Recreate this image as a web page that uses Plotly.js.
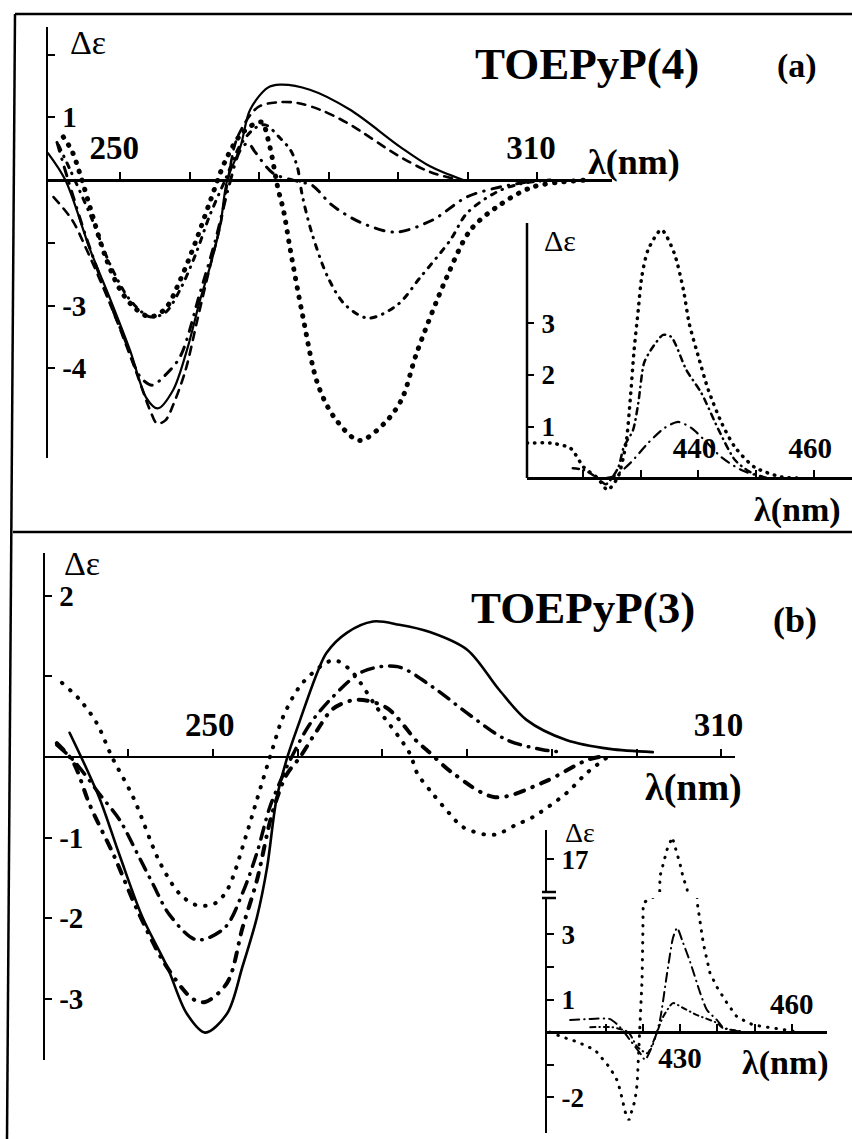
<!DOCTYPE html>
<html><head><meta charset="utf-8">
<script src="https://cdn.plot.ly/plotly-3.0.1.min.js"></script>
<style>
html,body{margin:0;padding:0;background:#fff;}
#chart{width:852px;height:1139px;}
.js-line{stroke-linecap:round;}
</style></head><body><div id="chart"></div>
<script>
// ---------- Panel (a) TOEPyP(4), main UV region (wavelength nm, Δε in tick units) ----------
const aSolidX = [239.6,242.1,245.7,248.6,251.4,253.8,255.4,257.6,259.6,261.5,262.9,264.4,265.4,267.3,268.7,271.2,273.0,277.3,283.1,290.3,294.6,299.4];
const aSolidY = [0.43,0,-1.12,-1.91,-2.71,-3.48,-3.64,-3.35,-2.71,-1.91,-1.39,-0.72,0,0.53,1.12,1.47,1.52,1.44,1.12,0.53,0.22,0];
const aDashX = [240.4,243.1,245.0,248.6,252.2,254.3,255.3,256.5,257.6,259.4,261.1,262.9,264.4,265.5,266.9,269.8,272.7,275.5,278.8,282.7,290.3,294.6,298.9];
const aDashY = [-0.27,-0.64,-1.07,-1.99,-3.03,-3.67,-3.88,-3.83,-3.59,-3.03,-2.23,-1.39,-0.72,0,0.69,1.16,1.24,1.23,1.12,0.91,0.37,0.13,0];
const aLongDashDotX = [240.9,242.5,245.0,247.8,250.7,252.9,254.6,256.2,258.6,261.5,263.7,265.5,267.3,268.4,269.4,272.0,275.9,277.6,280.5,284.5,289.6,294.9,299.9,304.7,310.4];
const aLongDashDotY = [0.6,0,-0.88,-1.75,-2.55,-3.14,-3.27,-3.14,-2.82,-1.79,-0.96,-0.16,0.48,0.59,0.45,0.11,-0.03,-0.08,-0.4,-0.67,-0.83,-0.64,-0.27,-0.11,0];
const aDashDotX = [241.1,242.8,245.7,248.6,251.4,254.3,256.5,258.6,260.8,262.9,265.1,267.3,269.4,270.9,273.0,274.5,275.5,276.2,277.6,279.9,282.4,285.7,289.9,293.2,297.5,299.9,304.2,307.6,311.9];
const aDashDotY = [0.56,0.16,-0.56,-1.36,-1.91,-2.18,-2.11,-1.75,-1.2,-0.56,0,0.56,0.83,0.88,0.67,0.48,0.21,-0.24,-0.85,-1.55,-1.99,-2.2,-1.99,-1.55,-0.96,-0.53,-0.19,-0.06,0];
const aDotX = [241.8,243.1,244.2,245.7,247.8,250.0,252.2,254.3,256.5,258.6,260.8,262.9,265.1,267.3,269.4,270.4,271.5,272.7,273.5,274.5,276.3,278.4,280.8,284.4,288.0,290.5,292.7,297.0,300.4,304.2,309.4,317.2];
const aDotY = [0.69,0.45,0.1,-0.45,-1.2,-1.75,-2.05,-2.18,-2.05,-1.6,-1.0,-0.35,0.3,0.72,0.9,0.92,0.55,-0.13,-0.48,-1.12,-2.18,-3.24,-3.78,-4.15,-3.88,-3.5,-2.75,-1.55,-0.8,-0.43,-0.11,0];
const aTickVals = [250,260,270,280,290,300,310];
const aTickText = ["250","","","","","","310"];
const aYTickVals = [2,1,-1,-2,-3];
const aYTickText = ["","1","","-3","-4"];

// ---------- Panel (a) inset, Soret region ----------
const aInsDotX = [410.4,411.0,414.4,417.9,420.2,422.6,424.3,426.1,427.5,428.2,428.9,429.6,430.2,431.3,433.6,435.8,437.4,438.4,440.0,441.7,444.0,446.3,449.7,454.4,458.0];
const aInsDotY = [0.68,0.68,0.68,0.58,0.21,0,-0.23,0.02,0.68,1.5,2.5,3.26,3.9,4.43,4.82,4.37,3.65,3.0,2.35,1.71,1.07,0.6,0.21,0.02,0];
const aInsDashDotX = [418.3,420.2,422.6,424.0,426.1,427.1,428.7,429.6,430.6,431.8,433.9,435.3,437.9,440.5,443.5,446.3,448.9,451.8];
const aInsDashDotY = [0.19,0.16,0,-0.12,0.19,0.6,0.93,1.45,2.23,2.49,2.78,2.74,2.1,1.65,0.93,0.35,0.12,0];
const aInsLongX = [424.0,425.7,428.3,431.3,434.1,436.5,438.8,441.0,444.0,447.5,451.0];
const aInsLongY = [0,0.05,0.3,0.68,0.97,1.09,0.97,0.74,0.4,0.15,0.02];
const aInsXTickVals = [420,430,440,450,460];
const aInsXTickText = ["","","440","","460"];
const aInsYTickVals = [3,2,1];
const aInsYTickText = ["3","2","1"];

// ---------- Panel (b) TOEPyP(3), main UV region ----------
const bSolidX = [233.1,234.9,236.7,239.0,241.7,244.6,246.9,249.1,251.7,253.5,255.2,256.4,257.5,258.8,260.3,262.3,263.4,265.8,268.9,272.0,275.6,280.0,283.8,287.0,291.7,296.8,301.9];
const bSolidY = [0.3,-0.1,-0.53,-1.22,-1.99,-2.6,-3.18,-3.42,-3.18,-2.6,-1.99,-1.37,-0.53,0,0.46,1.04,1.29,1.54,1.68,1.64,1.55,1.33,0.83,0.46,0.21,0.1,0.06];
const bDotX = [232.2,234.3,236.3,238.1,240.6,243.8,246.1,248.1,250.2,251.7,254.0,255.2,257.1,258.3,260.6,264.2,266.2,269.3,273.2,274.1,275.9,277.9,279.5,282.7,284.2,285.8,287.7,291.7,294.1,296.6];
const bDotY = [0.92,0.71,0.42,0,-0.5,-1.32,-1.7,-1.84,-1.82,-1.65,-0.95,-0.53,0.12,0.5,0.92,1.2,1.08,0.62,0.05,-0.2,-0.45,-0.7,-0.87,-0.97,-0.93,-0.84,-0.75,-0.45,-0.2,0];
const bBigDashDotX = [231.6,233.5,235.5,238.4,241.0,244.3,247.6,249.1,251.7,253.5,255.2,257.0,258.7,260.3,262.3,264.2,267.0,270.5,274.1,275.2,278.3,283.3,288.9,294.1,295.6];
const bBigDashDotY = [0.17,-0.06,-0.6,-1.24,-1.88,-2.56,-3.0,-3.04,-2.8,-2.12,-1.53,-0.7,-0.22,0,0.33,0.6,0.71,0.61,0.19,0.09,-0.2,-0.5,-0.32,-0.04,0];
const bDashDotX = [231.6,233.7,236.7,239.0,241.0,242.9,244.9,248.1,251.4,253.5,255.2,256.7,258.3,259.3,261.4,264.2,267.7,271.8,275.9,280.3,284.7,288.9,291.3];
const bDashDotY = [0.15,-0.06,-0.47,-0.78,-1.18,-1.57,-1.96,-2.27,-2.12,-1.69,-1.19,-0.63,-0.22,0,0.4,0.75,1.06,1.12,0.87,0.52,0.21,0.09,0.06];
const bTickVals = [240,250,260,270,280,290,300,310];
const bTickText = ["","250","","","","","","310"];
const bYTickVals = [2,1,-1,-2,-3];
const bYTickText = ["2","","-1","-2","-3"];

// ---------- Panel (b) inset, Soret region (broken Δε axis) ----------
const bInsDotX = [395.1,398.4,402.4,407.2,411.2,413.1,413.9,415.3,416.3,417.9,418.5,418.7,419.0,419.3,419.8,420.0,420.1,422.8,424.6,426.5,427.9,430.0,430.8,431.9,434.6,435.4,436.2,438.0,439.9,442.6,445.3,449.6,454.9,460.3];
const bInsDotY = [0,-0.15,-0.3,-0.55,-1.1,-1.48,-1.78,-2.46,-2.7,-2.1,-1.57,-1.08,-0.55,0,1.6,2.9,3.97,4.15,16.48,17.3,17.68,16.85,16.45,16.08,3.98,3.35,2.74,1.82,1.38,0.89,0.46,0.22,0.12,0.03];
const bInsLongX = [400.5,405.1,411.2,413.9,416.6,419.3,420.6,422.8,424.6,426.5,428.1,429.2,430.8,432.7,435.4,437.2,439.9,441.5,444.2,447.0];
const bInsLongY = [0.37,0.4,0.4,0.15,-0.25,-0.65,-0.85,-0.35,0.37,1.8,2.9,3.2,2.74,2.15,1.2,0.68,0.37,0.15,0.06,0];
const bInsShortX = [405.9,411.8,416.1,418.5,421.2,423.5,425.4,428.1,430.8,434.6,439.9,441.5,446.1];
const bInsShortY = [0.15,0.15,0,-0.45,-0.65,-0.1,0.46,0.89,0.74,0.52,0.28,0.12,0.03];
const bInsXTickVals = [400,410,420,430,440,450,460];
const bInsXTickText = ["","","","430","","",""];
const bInsXTopTickVals = [460];
const bInsXTopTickText = ["460"];
const bInsYTickVals = [3,2,1,-1,-2];
const bInsYTickText = ["3","","1","","-2"];
const bInsUpperTickVals = [17];
const bInsUpperTickText = ["17"];

// ---------- layout helpers ----------
const W = 852, H = 1139;
const FONT = 'Liberation Serif';
const K = '#000';
const fx = p => p / W;
const fy = p => 1 - p / H;
const zeroPos = (dom, rng) => dom[0] + (0 - rng[0]) / (rng[1] - rng[0]) * (dom[1] - dom[0]);
const tf = (s) => ({family: FONT, size: s, color: K, weight: 'bold'});

const dA = {x: [fx(48), fx(612)], y: [fy(458), fy(27)], xr: [239.6, 320.8], yr: [-4.43, 2.44]};
const dAi = {x: [fx(527), 1], y: [fy(492), fy(223)], xr: [410.4, 466.5], yr: [-0.27, 4.95]};
const dB = {x: [fx(45), fx(735)], y: [fy(1060), fy(553)], xr: [230.2, 311.6], yr: [-3.76, 2.53]};
const dBi = {x: [fx(547), fx(827)], y: [fy(1133), fy(898)], yu: [fy(892), fy(830)], xr: [394.3, 469.4], yr: [-3.1, 4.12], yur: [16.0, 17.9]};

function xAx(d, pos, vals, text, side, ticks, size, shift) {
  return {domain: d.x, range: d.xr, anchor: 'free', position: pos, side: side,
    showline: true, linecolor: K, linewidth: 2.5, ticks: ticks, ticklen: 7, tickwidth: 2, tickcolor: K,
    tickmode: 'array', tickvals: vals, ticktext: text, tickfont: tf(size), ticklabelshift: shift || 0,
    showgrid: false, zeroline: false, fixedrange: true};
}
function yAx(dom, rng, anchor, vals, text, size, showline) {
  return {domain: dom, range: rng, anchor: anchor, side: 'left',
    showline: showline, linecolor: K, linewidth: 2.5, ticks: 'inside', ticklen: 7, tickwidth: 2, tickcolor: K,
    ticklabelposition: 'inside', ticklabelstandoff: 10, tickmode: 'array', tickvals: vals, ticktext: text, tickfont: tf(size),
    showgrid: false, zeroline: false, fixedrange: true};
}
function tr(x, y, xa, ya, width, dash, shape, sm) {
  return {x: x, y: y, xaxis: xa, yaxis: ya, type: 'scatter', mode: 'lines', hoverinfo: 'skip', showlegend: false,
    line: {color: K, width: width, dash: dash, shape: shape || 'spline', smoothing: sm === undefined ? 0.9 : sm}};
}

const data = [
  tr(aSolidX, aSolidY, 'x', 'y', 2.2, 'solid'),
  tr(aDashX, aDashY, 'x', 'y', 2.6, '8px,7px'),
  tr(aLongDashDotX, aLongDashDotY, 'x', 'y', 3, '9px,8px,0.5px,8px'),
  tr(aDashDotX, aDashDotY, 'x', 'y', 3, '5px,7px,0.5px,7px'),
  tr(aDotX, aDotY, 'x', 'y', 5, '0.5px,9px'),
  tr(aInsDotX, aInsDotY, 'x2', 'y2', 3.5, '0.5px,7px', 'spline', 0.7),
  tr(aInsDashDotX, aInsDashDotY, 'x2', 'y2', 2.5, '6px,5px,0.5px,5px', 'spline', 0.7),
  tr(aInsLongX, aInsLongY, 'x2', 'y2', 2.2, '9px,6px,0.5px,6px', 'spline', 0.7),
  tr(bSolidX, bSolidY, 'x3', 'y3', 2.6, 'solid'),
  tr(bDotX, bDotY, 'x3', 'y3', 4, '0.5px,10px'),
  tr(bBigDashDotX, bBigDashDotY, 'x3', 'y3', 4, '9px,9px,0.5px,9px'),
  tr(bDashDotX, bDashDotY, 'x3', 'y3', 3.5, '12px,8px,0.5px,8px'),
  tr(bInsDotX, bInsDotY, 'x4', 'y4', 3, '0.5px,8px', 'linear'),
  tr(bInsDotX, bInsDotY, 'x4', 'y5', 3, '0.5px,8px', 'linear'),
  tr(bInsLongX, bInsLongY, 'x4', 'y4', 2, '9px,5px,0.5px,5px', 'spline', 0.6),
  tr(bInsShortX, bInsShortY, 'x4', 'y4', 2, '5px,4px,0.5px,4px', 'spline', 0.6)
];

function ann(text, cx, cy, size, bold) {
  return {text: text, x: fx(cx), y: fy(cy), xref: 'paper', yref: 'paper', showarrow: false,
    xanchor: 'center', yanchor: 'middle',
    font: {family: FONT, size: size, color: K, weight: bold ? 'bold' : 'normal'}};
}
function pline(x0, y0, x1, y1, w) {
  return {type: 'line', xref: 'paper', yref: 'paper', x0: fx(x0), y0: fy(y0), x1: fx(x1), y1: fy(y1),
    line: {color: K, width: w}};
}

// tick label placed above the inset (b) axis, positioned through the inset's own scales
const topTickAnns = bInsXTopTickVals.map((v, i) => ({
  text: bInsXTopTickText[i], x: v, y: 0, xref: 'x4', yref: 'y4', showarrow: false,
  xanchor: 'center', yanchor: 'bottom', yshift: 10, font: tf(29)
}));

const layout = {
  width: W, height: H, margin: {l: 0, r: 0, t: 0, b: 0},
  paper_bgcolor: '#fff', plot_bgcolor: 'rgba(0,0,0,0)', showlegend: false,
  font: {family: FONT, color: K},
  xaxis: xAx(dA, zeroPos(dA.y, dA.yr), aTickVals, aTickText, 'top', 'outside', 33, -6),
  yaxis: yAx(dA.y, dA.yr, 'x', aYTickVals, aYTickText, 29, true),
  xaxis2: xAx(dAi, zeroPos(dAi.y, dAi.yr), aInsXTickVals, aInsXTickText, 'top', 'outside', 29, -4),
  yaxis2: yAx(dAi.y, dAi.yr, 'x2', aInsYTickVals, aInsYTickText, 27, false),
  xaxis3: xAx(dB, zeroPos(dB.y, dB.yr), bTickVals, bTickText, 'top', 'outside', 33, -3),
  yaxis3: yAx(dB.y, dB.yr, 'x3', bYTickVals, bYTickText, 29, true),
  xaxis4: xAx(dBi, zeroPos(dBi.y, dBi.yr), bInsXTickVals, bInsXTickText, 'bottom', 'inside', 29, 0),
  yaxis4: yAx(dBi.y, dBi.yr, 'x4', bInsYTickVals, bInsYTickText, 27, true),
  yaxis5: yAx(dBi.yu, dBi.yur, 'x4', bInsUpperTickVals, bInsUpperTickText, 27, true),
  annotations: [
    ann('Δε', 88, 42, 34, false),
    ann('TOEPyP(4)', 587, 64, 45, true),
    ann('(a)', 797, 66, 34, true),
    ann('λ(nm)', 634, 162, 36, true),
    ann('Δε', 560, 240, 30, false),
    ann('λ(nm)', 797, 510, 34, true),
    ann('Δε', 82, 563, 34, false),
    ann('TOEPyP(3)', 583, 608, 45, true),
    ann('(b)', 795, 620, 36, true),
    ann('λ(nm)', 693, 787, 38, true),
    ann('Δε', 580, 832, 28, false),
    ann('λ(nm)', 785, 1063, 34, true)
  ].concat(topTickAnns),
  shapes: [
    pline(15, 14, 852, 14, 2.5),
    pline(15, 14, 7, 1139, 2.5),
    pline(13, 532, 852, 532, 2.5),
    {type: 'line', xref: 'x2 domain', yref: 'y2', x0: 0, x1: 0, y0: 0, y1: dAi.yr[1], line: {color: K, width: 2.5}},
    pline(542, 892, 556, 892, 2.5),
    pline(542, 898, 556, 898, 2.5)
  ]
};

Plotly.newPlot('chart', data, layout, {staticPlot: true, displayModeBar: false});
</script></body></html>
